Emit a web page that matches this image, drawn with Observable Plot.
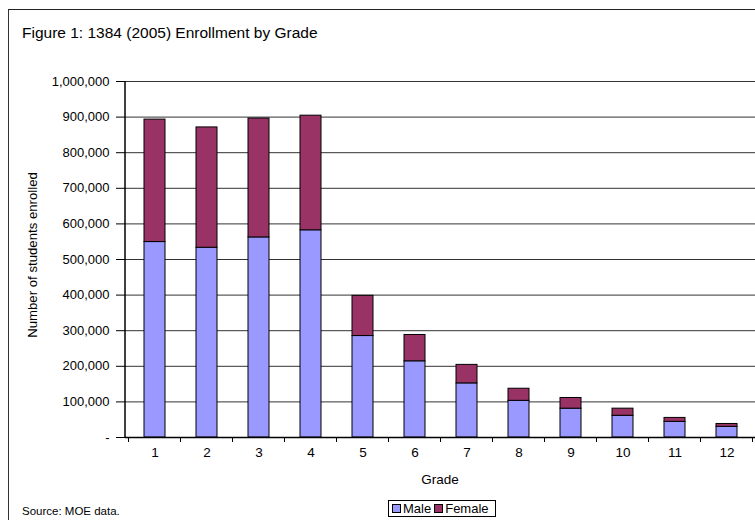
<!DOCTYPE html>
<html>
<head>
<meta charset="utf-8">
<script src="https://cdn.jsdelivr.net/npm/d3@7"></script>
<script src="https://cdn.jsdelivr.net/npm/@observablehq/plot@0.6"></script>
<style>
  body { margin: 0; background: #fff; font-family: "Liberation Sans", Arial, sans-serif; }
  #wrap { position: relative; width: 755px; height: 520px; overflow: hidden; background: #fff; }
  .frame { position: absolute; left: 8px; top: 9px; width: 800px; height: 600px;
           border-left: 1.5px solid #333; border-top: 1.5px solid #222; box-sizing: border-box; }
  #chart { position: absolute; left: 0; top: 0; }
  .txt { position: absolute; color: #000; white-space: nowrap; line-height: 1; }
  #title { left: 22px; top: 25px; font-size: 15.5px; }
  #ytitle { left: 33px; top: 255px; font-size: 13.2px; transform: translate(-50%, -50%) rotate(-90deg); }
  #xtitle { left: 440px; top: 473px; font-size: 13.5px; transform: translateX(-50%); }
  #source { left: 22px; top: 506px; font-size: 11.5px; }
  #legend { position: absolute; left: 388px; top: 500px; height: 17px; box-sizing: border-box;
            border: 1px solid #000; padding: 0 3px; display: flex; align-items: center;
            font-size: 13px; background: #fff; }
  .sw { display: inline-block; width: 7px; height: 7px; border: 1px solid #000; margin-right: 2px; }
  .item { display: flex; align-items: center; margin-right: 3px; }
</style>
</head>
<body>
<div id="wrap">
  <div class="frame"></div>
  <div id="chart"></div>
  <div class="txt" id="title">Figure 1: 1384 (2005) Enrollment by Grade</div>
  <div class="txt" id="ytitle">Number of students enrolled</div>
  <div class="txt" id="xtitle">Grade</div>
  <div class="txt" id="source">Source: MOE data.</div>
  <div id="legend"></div>
</div>
<script>
// Data
const grades = [1, 2, 3, 4, 5, 6, 7, 8, 9, 10, 11, 12];
const male   = [549000, 533000, 562000, 582000, 285000, 214000, 152000, 103000, 81000, 61000, 44000, 30000];
const female = [344000, 338000, 334000, 322000, 113000, 74000, 52000, 34000, 30000, 20000, 11000, 8000];
const series = ["Male", "Female"];
const seriesColors = ["#9999FF", "#993366"];
const yTicks = [0, 100000, 200000, 300000, 400000, 500000, 600000, 700000, 800000, 900000, 1000000];

const data = grades.flatMap((g, i) => [
  {grade: g, sex: "Male", value: male[i]},
  {grade: g, sex: "Female", value: female[i]}
]);

const fmt = d3.format(",");

const plot = Plot.plot({
  width: 755,
  height: 460,
  marginTop: 81,
  marginBottom: 23,
  marginLeft: 125,
  marginRight: 0,
  style: {fontFamily: "'Liberation Sans', Arial, sans-serif", fontSize: "13px", background: "transparent", overflow: "visible"},
  x: {type: "band", domain: grades, paddingInner: 0.6, paddingOuter: 0.3, label: null},
  y: {domain: [0, 1000000], label: null},
  color: {domain: series, range: seriesColors},
  marks: [
    Plot.gridY(yTicks.slice(1), {stroke: "#333", strokeOpacity: 1, strokeWidth: 1}),
    Plot.barY(data, {x: "grade", y: "value", fill: "sex", stroke: "#000", strokeWidth: 1}),
    Plot.axisY(yTicks, {tickSize: 9, tickPadding: 7, fontSize: 13, stroke: "#000",
      tickFormat: d => d === 0 ? "-" : fmt(d)}),
    Plot.axisX({tickSize: 0, tickPadding: 10, fontSize: 13.5}),
    Plot.ruleY([0], {stroke: "#000", strokeWidth: 1.5})
  ]
});

document.getElementById("chart").appendChild(plot);

// Y axis line and category-boundary ticks, placed through the plot's own scales
const sx = plot.scale("x");
const sy = plot.scale("y");
const svg = d3.select(plot);
const x0 = sx.range[0];
svg.append("line")
  .attr("x1", x0).attr("x2", x0)
  .attr("y1", sy.apply(1000000)).attr("y2", sy.apply(0) + 1)
  .attr("stroke", "#000").attr("stroke-width", 1.5);
const boundaries = grades.map(g => sx.apply(g) + sx.bandwidth / 2 - sx.step / 2);
boundaries.push(sx.apply(grades[grades.length - 1]) + sx.bandwidth / 2 + sx.step / 2);
svg.append("g").selectAll("line").data(boundaries).join("line")
  .attr("x1", d => d).attr("x2", d => d)
  .attr("y1", sy.apply(0)).attr("y2", sy.apply(0) + 5)
  .attr("stroke", "#000").attr("stroke-width", 1);

// Legend
const legend = document.getElementById("legend");
series.forEach((s, i) => {
  const item = document.createElement("span");
  item.className = "item";
  const sw = document.createElement("span");
  sw.className = "sw";
  sw.style.background = seriesColors[i];
  item.appendChild(sw);
  item.appendChild(document.createTextNode(s));
  legend.appendChild(item);
});
</script>
</body>
</html>
